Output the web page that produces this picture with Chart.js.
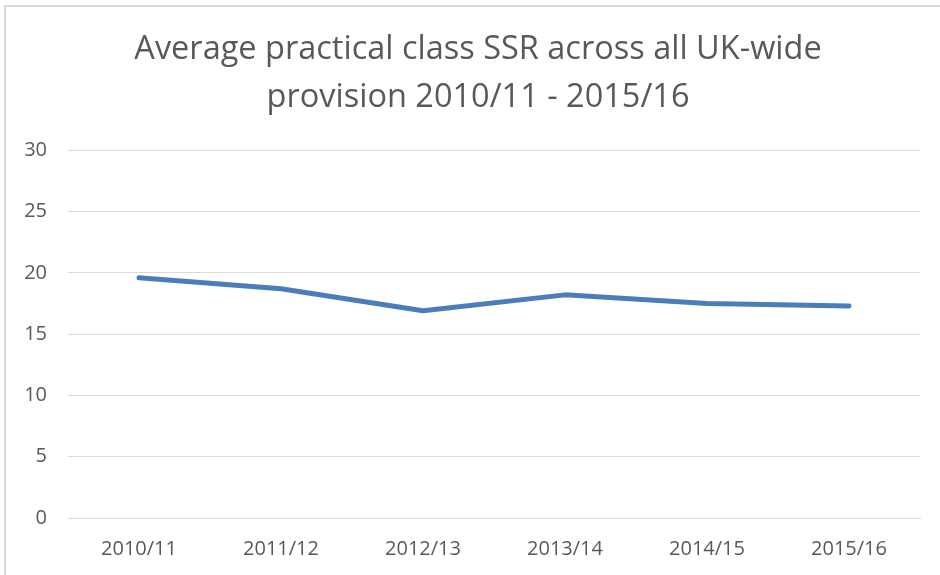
<!DOCTYPE html>
<html>
<head>
<meta charset="utf-8">
<script src="https://cdn.jsdelivr.net/npm/chart.js@4"></script>
<style>
  html, body { margin: 0; padding: 0; background: #fff; overflow: hidden; }
  #frame {
    position: absolute; left: 4px; top: 5px;
    width: 938px; height: 572px;
    border-left: 2px solid #d9d9d9; border-top: 2px solid #d9d9d9;
  }
  #wrap { position: absolute; left: 0; top: 0; width: 934px; height: 568px; }
</style>
</head>
<body>
<div id="frame"><div id="wrap"><canvas id="ssrChart"></canvas></div></div>
<script>
const years = ['2010/11', '2011/12', '2012/13', '2013/14', '2014/15', '2015/16'];
const ssrValues = [19.6, 18.7, 16.9, 18.2, 17.5, 17.3];
const yTicks = [0, 5, 10, 15, 20, 25, 30];
const titleLines = ['Average practical class SSR across all UK-wide', 'provision 2010/11 - 2015/16'];

const textGrey = '#595959';
const font = '"Open Sans", "Noto Sans", sans-serif';

// the original title sits a little right of the canvas centre
const shiftTitle = {
  id: 'shiftTitle',
  afterLayout(chart) {
    const t = chart.titleBlock;
    if (t) { t.left += 15; t.right += 15; }
  }
};

new Chart(document.getElementById('ssrChart').getContext('2d'), {
  type: 'line',
  data: {
    labels: years,
    datasets: [{
      label: 'SSR',
      data: ssrValues,
      borderColor: '#4a7ebb',
      borderWidth: 5,
      pointRadius: 0,
      tension: 0,
      borderCapStyle: 'round',
      borderJoinStyle: 'round'
    }]
  },
  options: {
    responsive: true,
    maintainAspectRatio: false,
    animation: false,
    layout: { padding: { left: 0, right: 20, top: 0, bottom: 0 } },
    plugins: {
      legend: { display: false },
      tooltip: { enabled: false },
      title: {
        display: true,
        text: titleLines,
        color: textGrey,
        font: { family: font, size: 32.5, weight: 'normal', lineHeight: 1.48 },
        padding: { top: 19, bottom: 28 }
      }
    },
    scales: {
      x: {
        offset: true,
        grid: { display: false, drawTicks: false },
        border: { display: true, color: '#d9d9d9', width: 1 },
        ticks: { color: textGrey, font: { family: font, size: 20 }, padding: 19 },
        afterFit: function(scale) { scale.height = 57; }
      },
      y: {
        min: 0,
        max: 30,
        afterBuildTicks: function(scale) {
          scale.ticks = yTicks.map(v => ({ value: v }));
        },
        grid: { color: '#d9d9d9', lineWidth: 1, drawTicks: false },
        border: { display: false },
        ticks: { color: textGrey, font: { family: font, size: 20 }, padding: 21 },
        afterFit: function(scale) { scale.width = 62; }
      }
    }
  },
  plugins: [shiftTitle]
});
</script>
</body>
</html>
